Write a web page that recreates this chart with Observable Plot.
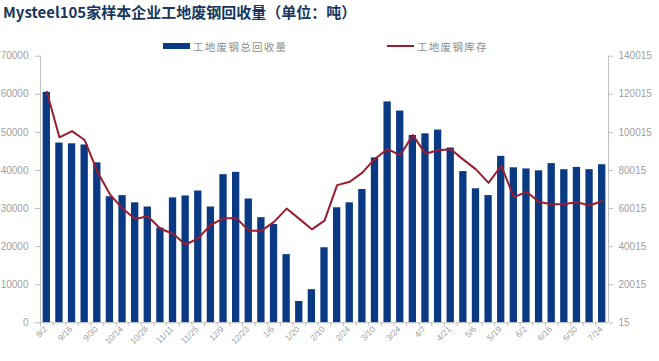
<!DOCTYPE html>
<html><head><meta charset="utf-8">
<script src="https://cdn.jsdelivr.net/npm/d3@7"></script>
<script src="https://cdn.jsdelivr.net/npm/@observablehq/plot@0.6"></script>
<style>
body{margin:0;background:#fff;font-family:"Noto Sans CJK SC",sans-serif;}
#wrap{position:relative;width:659px;height:361px;overflow:hidden;background:#fff}
#title{position:absolute;left:3px;top:1px;font-size:15px;font-weight:bold;color:#17375e;white-space:nowrap;z-index:2}
.leg{position:absolute;top:38px;height:16px;font-size:10.5px;color:#8c8c8c;letter-spacing:1.3px;display:flex;align-items:center;white-space:nowrap;z-index:2}
.sw{display:inline-block;margin-right:3px}
#chart{position:absolute;left:0;top:0}
</style></head>
<body>
<div id="wrap">
  <div id="title">Mysteel105家样本企业工地废钢回收量（单位：吨）</div>
  <div class="leg" style="left:163px"><span class="sw" style="width:27px;height:6px;background:#0b3a84"></span>工地废钢总回收量</div>
  <div class="leg" style="left:387px"><span class="sw" style="width:27px;height:2px;background:#9a1c2f"></span>工地废钢库存</div>
  <div id="chart"></div>
</div>
<script>
const dates = ["9/2","9/9","9/16","9/23","9/30","10/7","10/14","10/21","10/28","11/4","11/11","11/18","11/25","12/2","12/9","12/16","12/23","12/30","1/6","1/13","1/20","1/27","2/10","2/17","2/24","3/3","3/10","3/17","3/24","3/31","4/7","4/14","4/21","4/28","5/6","5/12","5/19","5/26","6/2","6/9","6/16","6/23","6/30","7/7","7/14"];
const labelDates = ["9/2","9/16","9/30","10/14","10/28","11/11","11/25","12/9","12/23","1/6","1/20","2/10","2/24","3/10","3/24","4/7","4/21","5/6","5/19","6/2","6/16","6/30","7/14"];
const recovery = [60500,47200,47000,46700,42000,33100,33400,31500,30400,24900,32800,33300,34600,30400,38900,39500,32500,27600,25800,17900,5600,8700,19700,30200,31500,35000,43300,58000,55600,49200,49600,50600,45900,39700,35200,33400,43700,40700,40400,39900,41800,40200,40800,40200,41500];
const inventory = [121300,97400,100700,96000,79500,67500,60000,54500,56000,49400,46800,41000,44500,51500,54800,55100,48400,48300,53000,60000,54600,49100,53700,72300,74100,78900,86200,91200,88000,98600,88800,90600,91200,85700,80600,73500,82500,66000,68800,63400,62300,62400,63300,61600,64000];
const leftTicks = [0,10000,20000,30000,40000,50000,60000,70000];
const rightTicks = [15,20015,40015,60015,80015,100015,120015,140015];

const rows = dates.map((d,i)=>({date:d, rec:recovery[i], inv:inventory[i]}));
const toLeft = v => (v - 15) / 2;
const plotL = 40, plotR = 608;
const step = (plotR - plotL) / dates.length;
const axisColor = "#c0c0c0", textColor = "#a0a0a0";

const chart = Plot.plot({
  width: 659, height: 361,
  marginTop: 55.7, marginBottom: 38.7, marginLeft: plotL, marginRight: 659 - plotR,
  style: {fontFamily: "'Liberation Sans', sans-serif", fontSize: "10px", background: "transparent", color: textColor},
  x: {type: "band", domain: dates, paddingInner: 0.42, paddingOuter: 0.21, round: false, label: null, axis: null},
  y: {domain: [0, 70000], label: null, axis: null},
  marks: [
    Plot.barY(rows, {x: "date", y: "rec", fill: "#0b3a84"}),
    Plot.lineY(rows, {x: "date", y: d => toLeft(d.inv), stroke: "#9a1c2f", strokeWidth: 2}),
    Plot.ruleY([0], {stroke: axisColor}),
    Plot.ruleX([dates[0]], {y1: 0, y2: 70000, dx: -step/2, stroke: axisColor}),
    Plot.ruleX([dates[dates.length-1]], {y1: 0, y2: 70000, dx: step/2, stroke: axisColor}),
    Plot.axisY({ticks: leftTicks, tickSize: 5, tickPadding: 7, tickFormat: d => String(d), stroke: axisColor, fill: textColor, label: null}),
    Plot.axisY({anchor: "right", ticks: rightTicks.map(toLeft), tickSize: 4, tickPadding: 6, tickFormat: (d, i) => String(rightTicks[i]), stroke: axisColor, fill: textColor, label: null}),
    Plot.axisX({ticks: dates, tickSize: 4, tickFormat: () => "", dx: -step/2, stroke: axisColor, label: null}),
    Plot.axisX({ticks: labelDates, tickSize: 0, tickPadding: 5, tickRotate: -45, fontSize: 8.5, dx: -1, fill: textColor, label: null})
  ]
});
document.getElementById("chart").appendChild(chart);
</script>
</body></html>
